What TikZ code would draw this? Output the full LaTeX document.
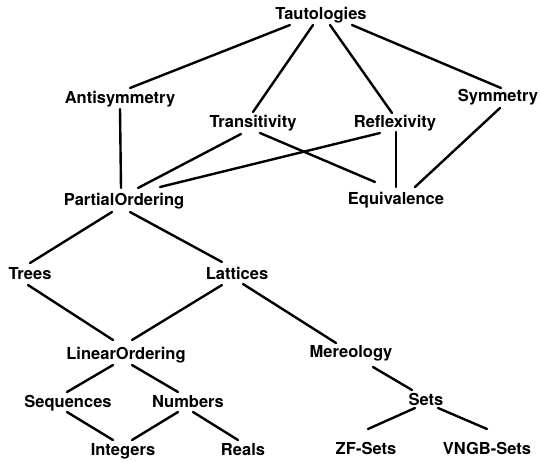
\documentclass[tikz,border=0pt]{standalone}
\usepackage{fontspec}
\setmainfont{TeX Gyre Heros}
\begin{document}
\begin{tikzpicture}[x=1pt,y=-1pt,
  lbl/.style={anchor=base,inner sep=0pt,font=\fontsize{16.5}{18}\selectfont\bfseries},
  link/.style={line width=2.4pt,line cap=round}]
\useasboundingbox (0,0) rectangle (540,461);

% concepts
\node[lbl] (taut)  at (321,19)  {Tautologies};
\node[lbl] (anti)  at (120,103) {Antisymmetry};
\node[lbl] (trans) at (253,127) {Transitivity};
\node[lbl] (refl)  at (395,127) {Reflexivity};
\node[lbl] (sym)   at (498,101) {Symmetry};
\node[lbl] (po)    at (124,205) {PartialOrdering};
\node[lbl] (equiv) at (396,204) {Equivalence};
\node[lbl] (trees) at (30,279)  {Trees};
\node[lbl] (latt)  at (237,279) {Lattices};
\node[lbl] (lin)   at (126,359) {LinearOrdering};
\node[lbl] (mer)   at (351,357) {Mereology};
\node[lbl] (seq)   at (68,407)  {Sequences};
\node[lbl] (num)   at (188,407) {Numbers};
\node[lbl] (sets)  at (426,405) {Sets};
\node[lbl] (int)   at (123,455) {Integers};
\node[lbl] (reals) at (243,455) {Reals};
\node[lbl] (zf)    at (366,454) {ZF-Sets};
\node[lbl] (vngb)  at (487,454) {VNGB-Sets};

% specialisation links
\draw[link] ([shift={(-31,6)}]taut.base)  -- ([shift={(10,-15)}]anti.base);
\draw[link] ([shift={(-8,6)}]taut.base)   -- ([shift={(0,-15)}]trans.base);
\draw[link] ([shift={(9,6)}]taut.base)    -- ([shift={(-3,-14)}]refl.base);
\draw[link] ([shift={(31,6)}]taut.base)   -- ([shift={(3,-13)}]sym.base);
\draw[link] ([shift={(0,6)}]anti.base)    -- ([shift={(-3,-17)}]po.base);
\draw[link] ([shift={(-12,7)}]trans.base) -- ([shift={(14,-17)}]po.base);
\draw[link] ([shift={(-15,6)}]refl.base)  -- ([shift={(36,-18)}]po.base);
\draw[link] ([shift={(7,6)}]trans.base)   -- ([shift={(-21,-22)}]equiv.base);
\draw[link] ([shift={(1,5)}]refl.base)    -- ([shift={(0,-17)}]equiv.base);
\draw[link] ([shift={(2,7)}]sym.base)     -- ([shift={(19,-17)}]equiv.base);
\draw[link] ([shift={(-12,7)}]po.base)    -- ([shift={(0,-16)}]trees.base);
\draw[link] ([shift={(6,7)}]po.base)      -- ([shift={(-15,-17)}]latt.base);
\draw[link] ([shift={(-2,6)}]trees.base)  -- ([shift={(-13,-19)}]lin.base);
\draw[link] ([shift={(-15,6)}]latt.base)  -- ([shift={(6,-19)}]lin.base);
\draw[link] ([shift={(6,5)}]latt.base)    -- ([shift={(-15,-14)}]mer.base);
\draw[link] ([shift={(-13,6)}]lin.base)   -- ([shift={(-1,-15)}]seq.base);
\draw[link] ([shift={(6,6)}]lin.base)     -- ([shift={(-10,-15)}]num.base);
\draw[link] ([shift={(22,10)}]mer.base)   -- ([shift={(-14,-15)}]sets.base);
\draw[link] ([shift={(-1,5)}]seq.base)    -- ([shift={(-10,-15)}]int.base);
\draw[link] ([shift={(-10,5)}]num.base)   -- ([shift={(9,-15)}]int.base);
\draw[link] ([shift={(5,5)}]num.base)     -- ([shift={(-5,-15)}]reals.base);
\draw[link] ([shift={(-11,3)}]sets.base)  -- ([shift={(2,-25)}]zf.base);
\draw[link] ([shift={(12,3)}]sets.base)   -- ([shift={(0,-25)}]vngb.base);
\end{tikzpicture}
\end{document}
